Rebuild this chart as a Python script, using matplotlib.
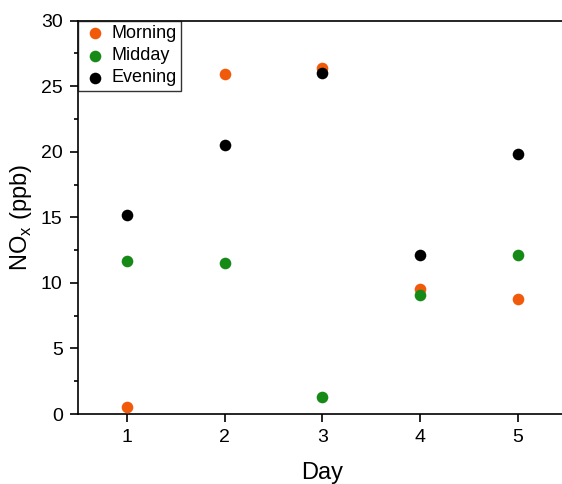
import matplotlib
matplotlib.use("Agg")
import matplotlib.pyplot as plt
from matplotlib.ticker import MultipleLocator

plt.rcParams['font.family'] = ['Liberation Sans', 'DejaVu Sans']

days = [1, 2, 3, 4, 5]
morning = [0.5, 25.9, 26.4, 9.5, 8.8]
midday = [11.7, 11.5, 1.3, 9.1, 12.1]
evening = [15.2, 20.5, 26.0, 12.1, 19.8]

fig = plt.figure(figsize=(5.62, 4.84), dpi=100)
ax = fig.add_axes([0.1388, 0.1446, 0.870, 0.8126])

ax.scatter(days, morning, s=70, color='#F05A0A', label='Morning', zorder=3, linewidths=0)
ax.scatter(days, midday, s=70, color='#168A16', label='Midday', zorder=3, linewidths=0)
ax.scatter(days, evening, s=70, color='#000000', label='Evening', zorder=3, linewidths=0)

ax.set_xlim(0.5, 5.5)
ax.set_ylim(0, 30)
ax.set_xticks(days)
ax.yaxis.set_major_locator(MultipleLocator(5))
ax.yaxis.set_minor_locator(MultipleLocator(2.5))
ax.tick_params(axis='both', which='major', direction='out', length=5.5, width=1.2,
               labelsize=14, pad=5.5)
ax.tick_params(axis='y', which='minor', direction='out', length=3, width=1.2)
ax.spines['right'].set_visible(False)
for sp in ax.spines.values():
    sp.set_linewidth(1.2)

ax.set_xlabel('Day', fontsize=17, labelpad=11)
ax.set_ylabel(r'NO$_\mathregular{x}$ (ppb)', fontsize=17, labelpad=5)

leg = ax.legend(loc='upper left', fontsize=13, frameon=True, fancybox=False,
                edgecolor='black', borderpad=0.25, handletextpad=0.2,
                labelspacing=0.28, borderaxespad=0.0, handlelength=1.4)
leg.get_frame().set_linewidth(1.0)

fig.savefig('out.png', dpi=100)
